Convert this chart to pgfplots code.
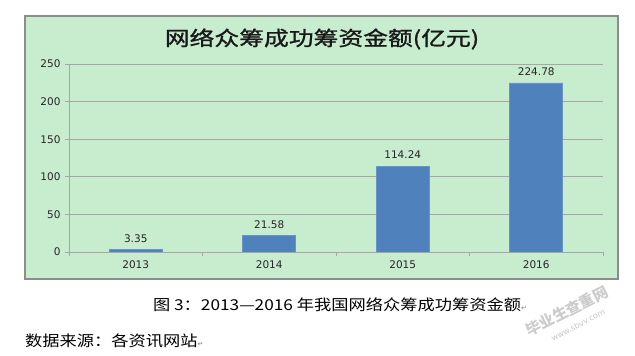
\documentclass[border=0pt]{standalone}
\usepackage{fontspec}
\usepackage{pgfplots}
\pgfplotsset{compat=1.18}
\usepackage{pgfplotstable}
\setmainfont{DejaVu Sans}
\newfontfamily\cjk{Noto Sans CJK SC}
\newfontfamily\titlefont[FakeStretch=1.24, FakeBold=1.2]{Noto Sans CJK SC}
\newfontfamily\capfont[FakeStretch=1.15]{Noto Sans CJK SC}
\newfontfamily\numfont{DejaVu Sans}
\definecolor{bg}{HTML}{C8ECCE}
\definecolor{barblue}{HTML}{4F81BD}
\definecolor{gridgray}{HTML}{A6A6A6}
\definecolor{framegray}{HTML}{8C8C8C}
\pgfplotstableread{
x y label
0 3.35 3.35
1 21.58 21.58
2 114.24 114.24
3 224.78 224.78
}\data
\begin{document}
\begin{tikzpicture}[x=1pt,y=1pt]
\fill[white] (0,0) rectangle (635,356);
\filldraw[fill=bg, draw=framegray, line width=1.2pt] (25,77) rectangle (618,340);
\node[font=\titlefont\fontsize{20}{22}\selectfont, text=black!90] at (322,317) {网络众筹成功筹资金额(亿元)};
\begin{axis}[
  at={(69pt,104pt)}, anchor=south west,
  scale only axis, width=534pt, height=188pt,
  xmin=-0.5, xmax=3.5, ymin=0, ymax=250,
  ytick={0,50,100,150,200,250},
  xtick={0,1,2,3}, xticklabels={2013,2014,2015,2016},
  minor xtick={-0.5,0.5,1.5,2.5,3.5},
  major x tick style={draw=none},
  tick align=outside, major tick length=4pt, minor tick length=4pt,
  axis x line*=bottom, axis y line*=left,
  axis line style={draw=gridgray, line width=0.9pt, -},
  tick style={draw=gridgray, line width=0.9pt},
  ymajorgrids, grid style={draw=gridgray, line width=0.9pt},
  ticklabel style={font=\numfont\fontsize{10.5}{12}\selectfont, text=black!85},
  yticklabel style={xshift=-1pt},
  xticklabel style={yshift=-1pt},
  /pgf/number format/assume math mode=true,
]
\addplot[ybar, bar width=53pt, fill=barblue, draw=barblue!85!white, line width=0.6pt,
  nodes near coords, point meta=explicit symbolic,
  every node near coord/.append style={font=\numfont\fontsize{10.5}{12}\selectfont, text=black!85, yshift=3.5pt}]
  table[x=x, y=y, meta=label]{\data};
\end{axis}
\node[font=\capfont\fontsize{15}{17}\selectfont] at (340,51) {图 3：2013—2016 年我国网络众筹成功筹资金额{\numfont\fontsize{7}{8}\selectfont\color{gray}↵}};
\node[font=\capfont\fontsize{15}{17}\selectfont, anchor=west, inner sep=0pt] at (25,15) {数据来源：各资讯网站{\numfont\fontsize{7}{8}\selectfont\color{gray}↵}};
\node[font=\cjk\bfseries\fontsize{15}{16}\selectfont, text=black!20, rotate=27, inner sep=0pt] at (567,45) {毕业生查重网};
\node[font=\numfont\fontsize{8}{9}\selectfont, text=black!22, rotate=27, inner sep=0pt] at (578,31) {www.sbvv.com};
\end{tikzpicture}
\end{document}
